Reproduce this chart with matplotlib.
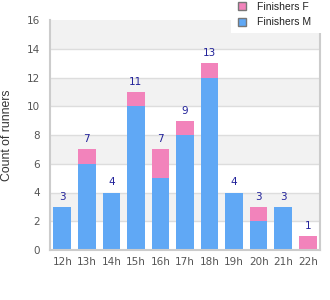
import numpy as np
import matplotlib.pyplot as plt
from matplotlib.patches import Patch, Rectangle

# Finishers per hour slot
hours = ["12h", "13h", "14h", "15h", "16h", "17h", "18h", "19h", "20h", "21h", "22h"]
men = [3, 6, 4, 10, 5, 8, 12, 4, 2, 3, 0]
women = [0, 1, 0, 1, 2, 1, 1, 0, 1, 0, 1]

BLUE = "#60a8f5"
PINK = "#f283bb"
GRID = "#dddddd"
NARROW = ['Liberation Sans Narrow', 'DejaVu Sans']

plt.rcParams['font.family'] = ['Liberation Sans', 'DejaVu Sans']

W, H = 330, 300
fig = plt.figure(figsize=(3.3, 3.0), dpi=100)
ax = fig.add_axes([50 / W, 50 / H, 270 / W, 230 / H])

x = np.arange(len(hours))
totals = np.array(men) + np.array(women)

# alternating background bands
for lo in range(2, 16, 4):
    ax.axhspan(lo, lo + 2, color="#f2f2f2", zorder=0, lw=0)
for y in range(2, 16, 2):
    ax.axhline(y, color=GRID, lw=1, zorder=1)

ax.bar(x, men, width=0.72, color=BLUE, zorder=2)
ax.bar(x, women, width=0.72, bottom=men, color=PINK, zorder=2)

for xi, t in zip(x, totals):
    ax.text(xi, t + 0.35, str(t), ha="center", va="bottom", fontsize=7.5,
            color="#22229a", family=NARROW)

ax.set_xlim(-0.5, len(hours) - 0.5)
ax.set_ylim(0, 16)
ax.set_yticks(range(0, 17, 2))
ax.set_xticks(x)
ax.set_xticklabels(hours)
ax.tick_params(length=0, labelsize=7.5, colors="#555555", pad=5)
ax.tick_params(axis="y", pad=7)
for lab in ax.get_xticklabels() + ax.get_yticklabels():
    lab.set_family(NARROW)
ax.set_ylabel("Count of runners", fontsize=8.8, color="#333333", labelpad=10)

for side in ["left", "bottom", "right"]:
    ax.spines[side].set_color("#cccccc")
    ax.spines[side].set_linewidth(1.5)
ax.spines["top"].set_visible(False)

# white box behind the legend, covering the top right of the plot
fig.patches.append(Rectangle((231 / W, 1 - 33 / H), 99 / W, 33 / H,
                             transform=fig.transFigure, facecolor="white",
                             edgecolor="none", zorder=3))

handles = [Patch(facecolor=PINK, edgecolor="#777777", lw=1),
           Patch(facecolor=BLUE, edgecolor="#777777", lw=1)]
leg = fig.legend(handles, ["Finishers F", "Finishers M"], loc="upper left",
                 bbox_to_anchor=(238 / W, 1 - 2 / H), fontsize=7.5, frameon=False,
                 handlelength=0.8, handleheight=0.8, handletextpad=1.0,
                 borderpad=0, labelspacing=0.5, borderaxespad=0)
leg.set_zorder(5)
for t in leg.get_texts():
    t.set_color("#222222")

fig.savefig("out.png", dpi=100)
